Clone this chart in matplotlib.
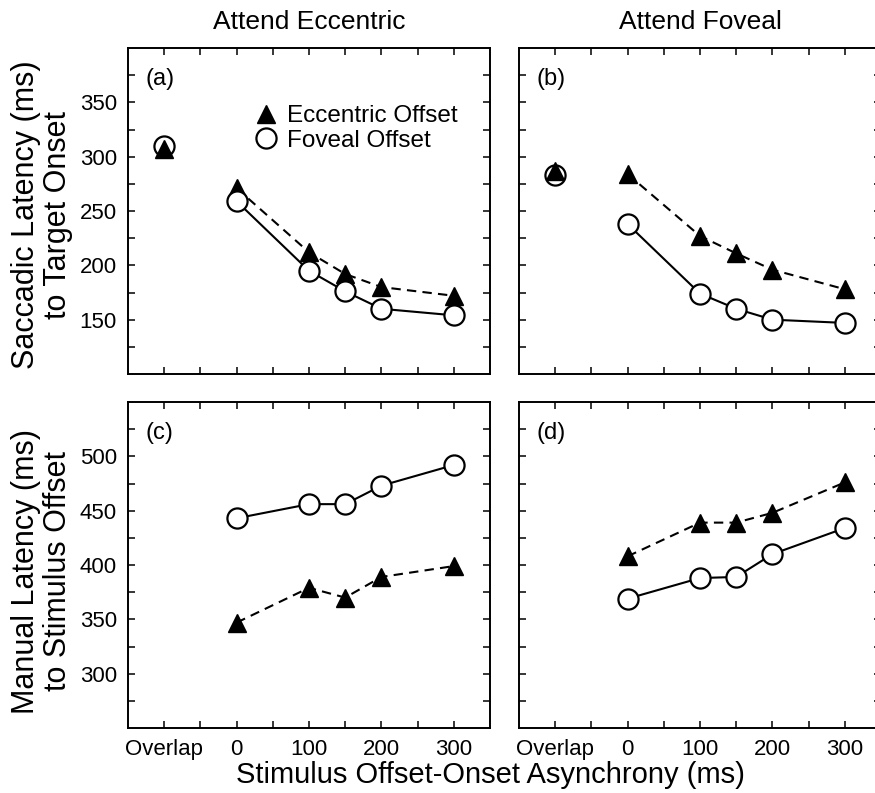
import matplotlib
matplotlib.use("Agg")
import matplotlib.pyplot as plt
from matplotlib.lines import Line2D

plt.rcParams["font.family"] = ["Liberation Sans", "DejaVu Sans"]

# stimulus offset-onset asynchrony (ms); "Overlap" is shown as its own column
soa = [0, 100, 150, 200, 300]
overlap_pos = -100
tick_pos = [-100, 0, 100, 200, 300]
tick_labels = ["Overlap", "0", "100", "200", "300"]

# (a) saccadic latency, attend eccentric
a_ecc_overlap = 307
a_fov_overlap = 310
a_ecc = [271, 212, 192, 180, 172]
a_fov = [259, 195, 176, 160, 154]

# (b) saccadic latency, attend foveal
b_ecc_overlap = 287
b_fov_overlap = 283
b_ecc = [284, 227, 211, 196, 178]
b_fov = [238, 174, 160, 150, 147]

# (c) manual latency, attend eccentric
c_fov = [443, 456, 456, 473, 492]
c_ecc = [347, 379, 370, 389, 399]

# (d) manual latency, attend foveal
d_fov = [369, 388, 389, 410, 434]
d_ecc = [408, 439, 439, 448, 476]

fig = plt.figure(figsize=(8.75, 7.93), dpi=100)
W, H = 875, 793


def px_axes(left, top, width, height):
    return fig.add_axes([left / W, 1 - (top + height) / H, width / W, height / H])


ax_a = px_axes(128, 48, 362, 326)
ax_b = px_axes(519, 48, 362, 326)
ax_c = px_axes(128, 402, 362, 326)
ax_d = px_axes(519, 402, 362, 326)

circ = dict(marker="o", ms=14.5, mfc="white", mec="black", mew=1.6, color="black")
tri = dict(marker="^", ms=12.5, mfc="black", mec="black", color="black")


def draw(ax, ecc, fov, ecc_ov=None, fov_ov=None):
    ax.plot(soa, ecc, ls=(0, (4.5, 3)), lw=1.5, zorder=2, **tri)
    ax.plot(soa, fov, ls="-", lw=1.5, zorder=3, **circ)
    if fov_ov is not None:
        ax.plot([overlap_pos], [fov_ov], ls="none", zorder=3, **circ)
        ax.plot([overlap_pos], [ecc_ov], ls="none", zorder=4, **tri)


draw(ax_a, a_ecc, a_fov, a_ecc_overlap, a_fov_overlap)
draw(ax_b, b_ecc, b_fov, b_ecc_overlap, b_fov_overlap)
draw(ax_c, c_ecc, c_fov)
draw(ax_d, d_ecc, d_fov)

all_ticks = list(range(-100, 301, 50))
for ax, lab in zip([ax_a, ax_b, ax_c, ax_d], ["(a)", "(b)", "(c)", "(d)"]):
    ax.set_xlim(-150, 350)
    ax.set_xticks(all_ticks)
    ax.set_xticklabels([tick_labels[tick_pos.index(t)] if t in tick_pos else ""
                        for t in all_ticks])
    ax.tick_params(which="both", direction="in", top=True, right=True,
                   length=5, width=1.1, labelsize=16, pad=8)
    for s in ax.spines.values():
        s.set_linewidth(1.4)
    ax.text(0.048, 0.905, lab, transform=ax.transAxes, fontsize=17,
            ha="left", va="center")

for ax in [ax_a, ax_b]:
    ax.set_ylim(100, 400)
    ax.set_yticks([150, 200, 250, 300, 350])
    ax.set_yticks([125, 175, 225, 275, 325, 375], minor=True)
for ax in [ax_c, ax_d]:
    ax.set_ylim(250, 550)
    ax.set_yticks([300, 350, 400, 450, 500])
    ax.set_yticks([275, 325, 375, 425, 475, 525], minor=True)

for ax in [ax_a, ax_b]:
    ax.tick_params(axis="x", labelbottom=False)
for ax in [ax_b, ax_d]:
    ax.tick_params(axis="y", labelleft=False)

ax_a.set_title("Attend Eccentric", fontsize=19, pad=14)
ax_b.set_title("Attend Foveal", fontsize=19, pad=14)

handles = [Line2D([], [], ls="none", **tri), Line2D([], [], ls="none", **circ)]
ax_a.legend(handles, ["Eccentric Offset", "Foveal Offset"], loc="upper left",
            bbox_to_anchor=(0.355, 0.825), frameon=False, fontsize=17.5,
            handlelength=0.8, handletextpad=0.45, labelspacing=0.12,
            borderaxespad=0, borderpad=0)

fig.text(42 / W, 1 - 215 / H, "Saccadic Latency (ms)\nto Target Onset",
         rotation=90, ha="center", va="center", fontsize=22,
         multialignment="center", linespacing=1.05)
fig.text(42 / W, 1 - 571 / H, "Manual Latency (ms)\nto Stimulus Offset",
         rotation=90, ha="center", va="center", fontsize=22,
         multialignment="center", linespacing=1.05)
fig.text(490 / W, 1 - 775 / H, "Stimulus Offset-Onset Asynchrony (ms)",
         ha="center", va="center", fontsize=21)

fig.savefig("out.png", dpi=100)
